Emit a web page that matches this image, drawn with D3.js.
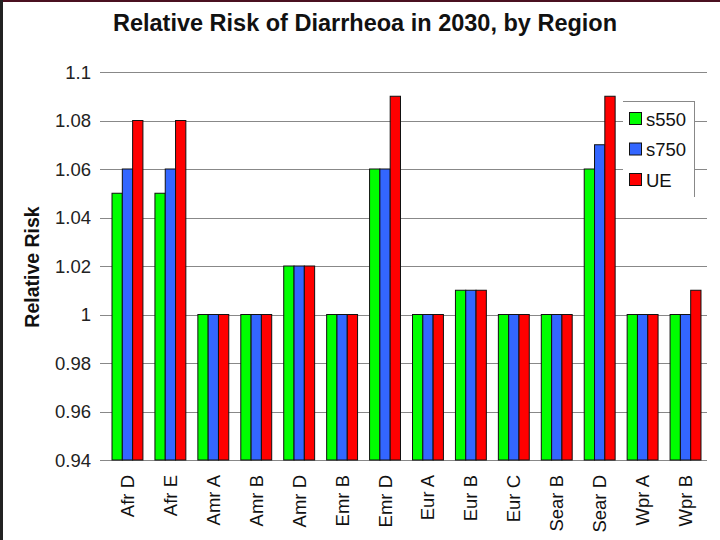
<!DOCTYPE html>
<html><head><meta charset="utf-8">
<script src="https://cdn.jsdelivr.net/npm/d3@7"></script>
<style>html,body{margin:0;padding:0;background:#fff;}svg{display:block;font-family:"Liberation Sans",Arial,sans-serif;}</style>
</head><body><svg id="c" width="720" height="540"></svg>
<script>
const categories = ["Afr D","Afr E","Amr A","Amr B","Amr D","Emr B","Emr D","Eur A","Eur B","Eur C","Sear B","Sear D","Wpr A","Wpr B"];
const seriesNames = ["s550","s750","UE"];
const s550 = [1.05,1.05,1.00,1.00,1.02,1.00,1.06,1.00,1.01,1.00,1.00,1.06,1.00,1.00];
const s750 = [1.06,1.06,1.00,1.00,1.02,1.00,1.06,1.00,1.01,1.00,1.00,1.07,1.00,1.00];
const UE   = [1.08,1.08,1.00,1.00,1.02,1.00,1.09,1.00,1.01,1.00,1.00,1.09,1.00,1.01];
const yTicks = [0.94,0.96,0.98,1,1.02,1.04,1.06,1.08,1.1];
const tickLabels = ["0.94","0.96","0.98","1","1.02","1.04","1.06","1.08","1.1"];
const colors = ["#00ff00","#3366ff","#ff0000"];

const svg = d3.select("#c");
const seriesVals = [s550, s750, UE];
const L = 106, R = 707, T = 72, B = 460;

// frame borders
svg.append("rect").attr("x",0).attr("y",0).attr("width",720).attr("height",2).attr("fill","#4a1020");
svg.append("rect").attr("x",0).attr("y",0).attr("width",3).attr("height",540).attr("fill","#222");

const x0 = d3.scaleBand().domain(categories).range([L,R]).paddingInner(0.28).paddingOuter(0.14);
const x1 = d3.scaleBand().domain(seriesNames).range([0,x0.bandwidth()]);
const y = d3.scaleLinear().domain([0.94,1.1]).range([B,T]);

// gridlines
svg.append("g").selectAll("line").data(yTicks).join("line")
  .attr("x1",L-6).attr("x2",R).attr("y1",d=>Math.round(y(d))+0.5).attr("y2",d=>Math.round(y(d))+0.5)
  .attr("stroke","#888").attr("stroke-width",1);

// y tick labels
svg.append("g").selectAll("text").data(yTicks).join("text")
  .attr("x",91).attr("y",d=>y(d)+6.5).attr("text-anchor","end")
  .attr("font-size",18.5).attr("fill","#222").text((d,i)=>tickLabels[i]);

// bars
const g = svg.append("g");
categories.forEach((c,ci)=>{
  seriesNames.forEach((s,si)=>{
    const v = seriesVals[si][ci];
    g.append("rect")
      .attr("x",x0(c)+x1(s)).attr("width",x1.bandwidth())
      .attr("y",y(v)).attr("height",y(0.94)-y(v))
      .attr("fill",colors[si]).attr("stroke","#111").attr("stroke-width",1);
  });
});

// x labels
svg.append("g").selectAll("text").data(categories).join("text")
  .attr("transform",d=>`translate(${x0(d)+x0.bandwidth()/2+6.5},475) rotate(-90)`)
  .attr("text-anchor","end").attr("font-size",18.5).attr("fill","#111").text(d=>d);

// title
svg.append("text").attr("x",365).attr("y",31).attr("text-anchor","middle")
  .attr("font-size",23.5).attr("font-weight","bold").attr("fill","#111")
  .text("Relative Risk of Diarrheoa in 2030, by Region");

// y axis title
svg.append("text").attr("transform","translate(39,267) rotate(-90)").attr("text-anchor","middle")
  .attr("font-size",19.5).attr("font-weight","bold").attr("fill","#111").text("Relative Risk");

// legend
const lg = svg.append("g");
lg.append("rect").attr("x",623).attr("y",101).attr("width",71).attr("height",96).attr("fill","#fff");
lg.append("line").attr("x1",623).attr("x2",694.5).attr("y1",101.5).attr("y2",101.5).attr("stroke","#888");
lg.append("line").attr("x1",694.5).attr("x2",694.5).attr("y1",101).attr("y2",197).attr("stroke","#888");
seriesNames.forEach((s,i)=>{
  const cy = 119 + i*30.5;
  lg.append("rect").attr("x",629.5).attr("y",cy-6.5).attr("width",12).attr("height",12)
    .attr("fill",colors[i]).attr("stroke","#111");
  lg.append("text").attr("x",646).attr("y",cy+6.5).attr("font-size",18.5).attr("fill","#111").text(s);
});
</script></body></html>
